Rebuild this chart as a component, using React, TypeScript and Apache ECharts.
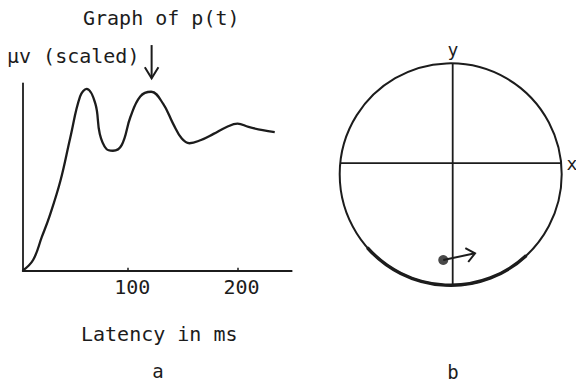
import { useEffect, useRef } from "react";
import * as echarts from "echarts";

// Panel a: averaged evoked potential p(t)
const latencyMs = [3.5, 13, 21, 28, 38, 47, 56, 62, 70, 74, 80, 86, 94, 102, 111, 121, 132, 141, 149, 156, 166, 178, 190, 200, 210, 223, 234];
const potential = [0, 5.7, 18, 29, 48, 71, 93, 97, 89, 73, 65, 64, 67, 82, 93, 95.5, 89, 78.5, 70.5, 68, 69.6, 73, 76.7, 78.5, 76.7, 75, 74];
const latencyTicks = [100, 200];
// downward marker above the second peak: [x1, y1, x2, y2]
const peakMarker = [121.4, 120.4, 121.4, 102.7];

// Panel b: unit circle with axes and a phase vector
const horizontalAxis = [[-0.995, 0.1], [0.995, 0.1]];
const verticalAxis = [[0.018, 1], [0.018, -1]];
const vectorStart = [-0.067, -0.772];
const vectorEnd = [0.219, -0.712];

const INK = "#1c1c1c";
const MONO = "'DejaVu Sans Mono', 'Liberation Mono', monospace";

function arrowItem(api: any, head: number, spread: number) {
  const p1 = api.coord([api.value(0), api.value(1)]);
  const p2 = api.coord([api.value(2), api.value(3)]);
  const ang = Math.atan2(p2[1] - p1[1], p2[0] - p1[0]);
  const a1 = ang + Math.PI - spread;
  const a2 = ang + Math.PI + spread;
  return {
    type: "group",
    children: [
      {
        type: "line",
        shape: { x1: p1[0], y1: p1[1], x2: p2[0], y2: p2[1] },
        style: { stroke: INK, lineWidth: 2 },
      },
      {
        type: "polyline",
        shape: {
          points: [
            [p2[0] + head * Math.cos(a1), p2[1] + head * Math.sin(a1)],
            [p2[0], p2[1]],
            [p2[0] + head * Math.cos(a2), p2[1] + head * Math.sin(a2)],
          ],
        },
        style: { stroke: INK, lineWidth: 2, fill: "none" },
      },
    ],
  };
}

export default function App() {
  const ref = useRef<HTMLDivElement>(null);

  useEffect(() => {
    if (!ref.current) return;
    const chart = echarts.init(ref.current, null, { renderer: "svg" });

    const text = (t: string, x: number, y: number, size: number, align = "left") => ({
      type: "text",
      x,
      y,
      style: {
        text: t,
        fontFamily: MONO,
        fontSize: size,
        fill: INK,
        textAlign: align,
        textVerticalAlign: "middle",
      },
    });

    chart.setOption({
      animation: false,
      backgroundColor: "#ffffff",
      grid: [
        { left: 22.7, top: 83.3, width: 269, height: 187.4 },
        { left: 339.7, top: 63.3, width: 222, height: 222 },
      ],
      xAxis: [
        {
          type: "value",
          gridIndex: 0,
          min: 3.5,
          max: 249.5,
          splitLine: { show: false },
          axisLine: { lineStyle: { color: INK, width: 1.8 } },
          axisTick: { show: true, inside: true, length: 3, customValues: latencyTicks, lineStyle: { color: INK, width: 1.5 } },
          axisLabel: {
            customValues: latencyTicks,
            fontFamily: MONO,
            fontSize: 20,
            color: INK,
            margin: 6,
            padding: [0, 0, 0, 8],
          },
        },
        { type: "value", gridIndex: 1, min: -1, max: 1, show: false },
      ],
      yAxis: [
        {
          type: "value",
          gridIndex: 0,
          min: 0,
          max: 100,
          splitLine: { show: false },
          axisTick: { show: false },
          axisLabel: { show: false },
          axisLine: { show: true, lineStyle: { color: INK, width: 1.8 } },
        },
        { type: "value", gridIndex: 1, min: -1, max: 1, show: false },
      ],
      series: [
        {
          type: "line",
          xAxisIndex: 0,
          yAxisIndex: 0,
          data: latencyMs.map((t, i) => [t, potential[i]]),
          smooth: 0.4,
          showSymbol: false,
          lineStyle: { color: INK, width: 2.3 },
        },
        {
          type: "custom",
          xAxisIndex: 0,
          yAxisIndex: 0,
          clip: false,
          data: [peakMarker],
          encode: { x: [0, 2], y: [1, 3] },
          renderItem: (_p: any, api: any) => arrowItem(api, 13, 0.55),
        },
        {
          type: "custom",
          xAxisIndex: 1,
          yAxisIndex: 1,
          clip: false,
          data: [[0, 0]],
          encode: { x: 0, y: 1 },
          renderItem: (_p: any, api: any) => {
            const c = api.coord([0, 0]);
            const r = api.size([1, 1])[0];
            return {
              type: "group",
              children: [
                {
                  type: "circle",
                  shape: { cx: c[0], cy: c[1], r },
                  style: { fill: "none", stroke: INK, lineWidth: 2 },
                },
                {
                  type: "arc",
                  shape: { cx: c[0], cy: c[1], r, startAngle: Math.PI / 2 - 0.75, endAngle: Math.PI / 2 + 0.85 },
                  style: { fill: "none", stroke: INK, lineWidth: 3.4 },
                },
              ],
            };
          },
        },
        {
          type: "line",
          xAxisIndex: 1,
          yAxisIndex: 1,
          data: horizontalAxis,
          showSymbol: false,
          lineStyle: { color: INK, width: 1.8 },
        },
        {
          type: "line",
          xAxisIndex: 1,
          yAxisIndex: 1,
          data: verticalAxis,
          showSymbol: false,
          lineStyle: { color: INK, width: 1.8 },
        },
        {
          type: "custom",
          xAxisIndex: 1,
          yAxisIndex: 1,
          clip: false,
          data: [[...vectorStart, ...vectorEnd]],
          encode: { x: [0, 2], y: [1, 3] },
          renderItem: (_p: any, api: any) => arrowItem(api, 11, 0.7),
        },
        {
          type: "scatter",
          xAxisIndex: 1,
          yAxisIndex: 1,
          data: [vectorStart],
          symbolSize: 10,
          itemStyle: { color: INK },
        },
      ],
      graphic: [
        text("Graph of p(t)", 83, 18, 20),
        text("μv (scaled)", 7, 56, 20),
        text("Latency in ms", 81, 334, 20),
        text("a", 158, 371, 19, "center"),
        text("b", 453, 372, 19, "center"),
        text("y", 453, 49, 18, "center"),
        text("x", 572, 163, 18, "center"),
      ],
    });

    return () => chart.dispose();
  }, []);

  return (
    <div
      ref={ref}
      style={{ position: "fixed", left: 0, top: 0, width: 576, height: 385, background: "#fff" }}
    />
  );
}
